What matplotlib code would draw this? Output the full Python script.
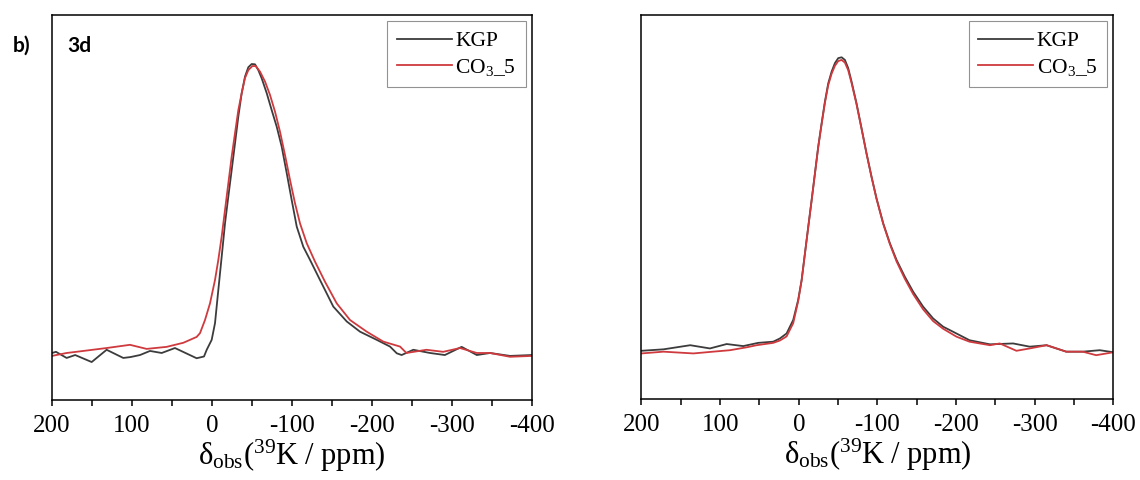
import numpy as np
from matplotlib import pyplot as plt
import matplotlib.ticker as ticker
import matplotlib

matplotlib.rcParams['mathtext.fontset'] = 'custom'
matplotlib.rcParams['mathtext.rm'] = 'Liberation Serif'
matplotlib.rcParams['mathtext.it'] = 'Liberation Serif:italic'
matplotlib.rcParams['font.family'] = ['Liberation Serif', 'DejaVu Serif']

# panel 3d (left)
ppm_kgp_l = [200, 195, 181.7, 171, 150.4, 131.7, 110.9, 102, 90, 77.5, 62.9, 46.3, 19.2, 10, 6.6, 0.4,
             -3.75, -7.9, -12.1, -16.25, -20.4, -24.6, -28.75, -32.9, -37.1, -41.25, -45.4, -49.6,
             -53.75, -57.9, -62.1, -68.4, -74.6, -80.9, -87.1, -93.4, -99.6, -105.9, -114.1, -122.5,
             -135, -151.6, -168.4, -185, -205.9, -222.5, -230.9, -237, -251.6, -272.5, -291, -312,
             -331, -347.5, -372.5, -400]
int_kgp_l = [0.010, 0.014, -0.007, 0.003, -0.021, 0.021, -0.007, -0.004, 0.003, 0.017, 0.010, 0.027, -0.008, -0.002, 0.021, 0.055,
             0.112, 0.226, 0.340, 0.454, 0.546, 0.637, 0.728, 0.820, 0.900, 0.957, 0.989, 1.0,
             0.999, 0.979, 0.951, 0.900, 0.842, 0.785, 0.717, 0.626, 0.534, 0.443, 0.374, 0.329,
             0.260, 0.169, 0.118, 0.083, 0.055, 0.032, 0.009, 0.003, 0.021, 0.010, 0.003, 0.031,
             0.003, 0.010, 0.0, 0.003]

ppm_co3_l = [200, 181.7, 160.8, 131.7, 102.5, 81.7, 56.7, 35.8, 19.2, 15, 8.75, 2.5,
             -3.75, -7.9, -12.1, -16.25, -20.4, -24.6, -28.75, -32.9, -37.1, -41.25, -45.4, -50.4,
             -54.6, -60, -66.25, -72.5, -78.75, -85, -91.25, -97.5, -103.75, -110, -118.4, -128.75,
             -141.25, -155.9, -172.5, -193.4, -214.1, -235, -243, -268, -289, -310, -331, -347.5,
             -372.5, -400]
int_co3_l = [0.0, 0.010, 0.017, 0.027, 0.038, 0.024, 0.031, 0.045, 0.065, 0.078, 0.123, 0.180,
             0.260, 0.329, 0.409, 0.500, 0.591, 0.683, 0.763, 0.842, 0.900, 0.952, 0.979, 0.993,
             0.993, 0.974, 0.940, 0.894, 0.837, 0.768, 0.688, 0.603, 0.523, 0.454, 0.386, 0.323,
             0.254, 0.180, 0.123, 0.083, 0.049, 0.032, 0.010, 0.021, 0.014, 0.027, 0.010, 0.010,
             -0.003, 0.0]

# right panel
ppm_kgp_r = [200, 172, 138, 113, 91.7, 70.6, 51.6, 32.5, 24, 15.5, 7.1, 0.8, -3.6, -7.8, -12,
             -16.3, -20.5, -24.7, -29, -33.2, -37.4, -41.7, -45.9, -50.1, -54.4, -58.6, -62.8,
             -67.1, -73.4, -79.8, -86.1, -92.5, -98.8, -107.3, -115.8, -124.3, -134.8, -145.4,
             -158.1, -170.8, -183.5, -196, -217, -243, -272.5, -293.6, -315, -340, -361, -382.6, -400]
int_kgp_r = [0.001, 0.006, 0.020, 0.009, 0.024, 0.017, 0.028, 0.032, 0.043, 0.060, 0.106, 0.174, 0.242, 0.333, 0.423,
             0.514, 0.605, 0.696, 0.775, 0.849, 0.911, 0.951, 0.980, 0.997, 1.0, 0.991, 0.963,
             0.917, 0.843, 0.758, 0.673, 0.593, 0.520, 0.435, 0.367, 0.310, 0.253, 0.202,
             0.151, 0.111, 0.083, 0.066, 0.037, 0.023, 0.026, 0.015, 0.020, -0.002, -0.002, 0.003, -0.004]

ppm_co3_r = [200, 172, 134, 109, 87.5, 66, 53.6, 32.5, 24, 15.5, 7.1, 0.8, -3.6, -7.8, -12,
             -16.3, -20.5, -24.7, -29, -33.2, -37.4, -41.7, -45.9, -50.1, -54.4, -58.6, -62.8,
             -67.1, -73.4, -79.8, -86.1, -92.5, -98.8, -107.3, -115.8, -124.3, -134.8, -145.4,
             -158.1, -170.8, -183.5, -200.5, -217, -243, -255.5, -276.7, -293.6, -315, -340, -361, -378, -400]
int_co3_r = [-0.008, -0.002, -0.008, -0.002, 0.003, 0.013, 0.020, 0.028, 0.036, 0.050, 0.095, 0.170, 0.240, 0.331, 0.421,
             0.512, 0.603, 0.694, 0.772, 0.845, 0.905, 0.944, 0.971, 0.987, 0.991, 0.982, 0.956,
             0.912, 0.840, 0.756, 0.672, 0.592, 0.518, 0.433, 0.364, 0.305, 0.246, 0.194,
             0.142, 0.102, 0.076, 0.049, 0.032, 0.020, 0.026, 0.001, 0.009, 0.020, -0.002, -0.002, -0.014, -0.004]

xticks = [200, 100, 0, -100, -200, -300, -400]
xticklabels = ['200', '100', '0', '-100', '-200', '-300', '-400']

kgp_col = '#3c3c3c'
co3_col = '#cf3a3e'

fig = plt.figure(figsize=(11.4, 4.8), dpi=100)
ax1 = fig.add_axes([0.0456, 0.1667, 0.4211, 0.8021])
ax2 = fig.add_axes([0.5627, 0.1688, 0.4140, 0.8000])

panels = [(ax1, ppm_kgp_l, int_kgp_l, ppm_co3_l, int_co3_l, (-0.151, 1.168)),
          (ax2, ppm_kgp_r, int_kgp_r, ppm_co3_r, int_co3_r, (-0.163, 1.144))]

for ax, xk, yk, xc, yc, ylim in panels:
    ax.plot(xk, yk, '-', color=kgp_col, lw=1.3, label='KGP')
    ax.plot(xc, yc, '-', color=co3_col, lw=1.3, label='CO$_3$_5')
    ax.set_xlim(200, -400)
    ax.set_ylim(ylim)
    ax.set_yticks([])
    ax.set_xticks(xticks)
    ax.set_xticklabels(xticklabels)
    ax.xaxis.set_minor_locator(ticker.MultipleLocator(50))
    ax.tick_params(axis='x', which='both', direction='out', length=4.5, width=1.1,
                   labelsize=18, pad=6)
    for s in ax.spines.values():
        s.set_linewidth(1.1)
    ax.set_xlabel(r'$\mathregular{\delta_{obs}(^{39}K\ /\ ppm)}$', fontsize=22, labelpad=1)
    leg = ax.legend(loc='upper right', fontsize=15.5, frameon=True, fancybox=False,
                    handlelength=2.55, handletextpad=0.15, borderpad=0.45,
                    labelspacing=0.25, borderaxespad=0.3)
    leg.get_frame().set_edgecolor('#777777')
    leg.get_frame().set_linewidth(0.8)

fig.text(0.0114, 0.892, 'b)', fontsize=15, fontweight='bold', va='baseline',
         family=['Lato', 'DejaVu Sans'])
fig.text(0.0588, 0.892, '3d', fontsize=15, fontweight='bold', va='baseline',
         family=['Lato', 'DejaVu Sans'])

plt.savefig('out.png', dpi=100)
